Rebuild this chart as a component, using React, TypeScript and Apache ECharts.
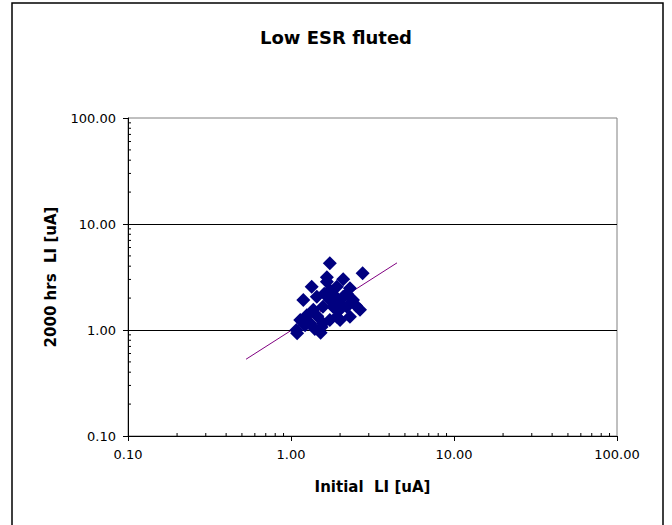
import React, { useEffect, useRef } from "react";
import * as echarts from "echarts";

const TITLE = "Low ESR fluted";
const X_NAME = "Initial  LI [uA]";
const Y_NAME = "2000 hrs  LI [uA]";

// Initial LI [uA]
const initialLI = [
  1.73, 2.75, 1.66, 2.09, 1.34, 1.19, 2.3, 2.65, 1.09, 1.52,
  1.73, 2.0, 1.14, 1.25, 1.73, 1.44, 1.91, 2.2, 2.4, 1.57,
  1.37, 1.31, 1.57, 1.91, 2.3, 2.09, 1.73, 1.81, 1.66, 1.54,
  1.08, 1.22, 1.4, 1.85, 2.0, 1.6, 2.2, 1.95, 1.45, 2.5,
];
// 2000 hrs LI [uA]
const hrs2000LI = [
  4.26, 3.43, 3.14, 3.01, 2.56, 1.92, 2.47, 1.55, 0.93, 0.94,
  1.24, 1.24, 1.24, 1.38, 1.92, 2.06, 2.56, 1.66, 1.92, 1.66,
  1.55, 1.16, 1.16, 1.33, 1.33, 2.06, 2.38, 1.66, 2.86, 1.07,
  1.0, 1.11, 1.02, 2.1, 1.8, 2.2, 2.2, 1.5, 1.35, 1.7,
];

// power trendline end points
const trendX = [0.53, 4.47];
const trendY = [0.53, 4.3];

// log minor tick values
const minorTicks = [
  0.2, 0.3, 0.4, 0.5, 0.6, 0.7, 0.8, 0.9,
  2, 3, 4, 5, 6, 7, 8, 9,
  20, 30, 40, 50, 60, 70, 80, 90,
];

const AXIS_MIN = 0.1;
const AXIS_MAX = 100;

const FONT = "DejaVu Sans";

export default function App() {
  const ref = useRef<HTMLDivElement>(null);

  useEffect(() => {
    if (!ref.current) return;
    const chart = echarts.init(ref.current, undefined, { renderer: "svg" });
    const fmt = (v: number) => Number(v).toFixed(2);
    const option: any = {
      animation: false,
      backgroundColor: "#ffffff",
      title: {
        text: TITLE,
        left: "center",
        top: 23,
        textStyle: { fontFamily: FONT, fontSize: 18, fontWeight: "bold", color: "#000" },
      },
      graphic: [
        {
          type: "rect",
          shape: { x: 12, y: 3, width: 651, height: 530 },
          style: { fill: "none", stroke: "#000", lineWidth: 1.5 },
          silent: true,
          z: 100,
        },
      ],
      grid: {
        left: 128,
        right: 55,
        top: 118,
        bottom: 89,
        show: true,
        borderColor: "#808080",
        borderWidth: 1,
        backgroundColor: "transparent",
      },
      xAxis: {
        type: "log",
        logBase: 10,
        min: AXIS_MIN,
        max: AXIS_MAX,
        name: X_NAME,
        nameLocation: "middle",
        nameGap: 43,
        nameTextStyle: { fontFamily: FONT, fontSize: 15, fontWeight: "bold", color: "#000" },
        axisLine: { show: true, lineStyle: { color: "#000", width: 1 } },
        axisTick: { show: true, inside: false, length: 5, lineStyle: { color: "#000" } },
        axisLabel: { formatter: fmt, margin: 12, fontFamily: FONT, fontSize: 13, color: "#000" },
        splitLine: { show: false },
      },
      yAxis: {
        type: "log",
        logBase: 10,
        min: AXIS_MIN,
        max: AXIS_MAX,
        name: Y_NAME,
        nameLocation: "middle",
        nameGap: 70,
        nameTextStyle: { fontFamily: FONT, fontSize: 15, fontWeight: "bold", color: "#000" },
        axisLine: { show: true, lineStyle: { color: "#000", width: 1 } },
        axisTick: { show: true, inside: false, length: 5, lineStyle: { color: "#000" } },
        axisLabel: { formatter: fmt, margin: 12, fontFamily: FONT, fontSize: 13, color: "#000" },
        splitLine: {
          show: true,
          showMinLine: false,
          showMaxLine: false,
          lineStyle: { color: "#000", width: 1 },
        },
      },
      series: [
        {
          type: "custom",
          coordinateSystem: "cartesian2d",
          silent: true,
          clip: false,
          z: 5,
          data: minorTicks.map((v) => [v, v]),
          encode: { x: 0, y: 1 },
          renderItem: (_params: any, api: any) => {
            const v = api.value(0);
            const px = api.coord([v, AXIS_MIN]);
            const py = api.coord([AXIS_MIN, v]);
            return {
              type: "group",
              children: [
                {
                  type: "line",
                  shape: { x1: px[0], y1: px[1], x2: px[0], y2: px[1] - 3 },
                  style: { stroke: "#000", lineWidth: 1 },
                },
                {
                  type: "line",
                  shape: { x1: py[0], y1: py[1], x2: py[0] + 3, y2: py[1] },
                  style: { stroke: "#000", lineWidth: 1 },
                },
              ],
            };
          },
        },
        {
          type: "line",
          data: trendX.map((x, i) => [x, trendY[i]]),
          showSymbol: false,
          symbol: "none",
          lineStyle: { color: "#800080", width: 1 },
          z: 3,
        },
        {
          type: "scatter",
          data: initialLI.map((x, i) => [x, hrs2000LI[i]]),
          symbol: "diamond",
          symbolSize: 14,
          itemStyle: { color: "#000080", opacity: 1 },
          z: 4,
        },
      ],
    };
    chart.setOption(option);
    return () => chart.dispose();
  }, []);

  return (
    <div
      ref={ref}
      style={{ position: "absolute", left: 0, top: 0, width: 672, height: 525 }}
    />
  );
}
